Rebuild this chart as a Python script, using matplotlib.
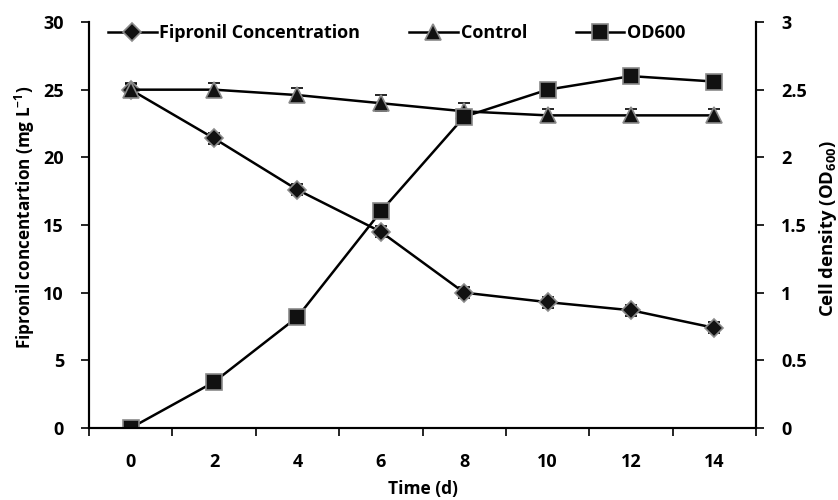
import matplotlib.pyplot as plt
import numpy as np

plt.rcParams['font.family'] = ['Open Sans', 'DejaVu Sans']
plt.rcParams['font.weight'] = 'bold'
plt.rcParams['mathtext.fontset'] = 'custom'
plt.rcParams['mathtext.rm'] = 'Open Sans:bold'
plt.rcParams['mathtext.bf'] = 'Open Sans:bold'
plt.rcParams['mathtext.default'] = 'bf'

# data
days = [0, 2, 4, 6, 8, 10, 12, 14]
fipronil = [25.0, 21.4, 17.6, 14.5, 10.0, 9.3, 8.7, 7.4]
fipronil_err = [0.4, 0.4, 0.4, 0.4, 0.4, 0.4, 0.4, 0.4]
control = [25.0, 25.0, 24.6, 24.0, 23.4, 23.1, 23.1, 23.1]
control_err = [0.5, 0.5, 0.5, 0.6, 0.6, 0.5, 0.5, 0.5]
od600 = [0.0, 0.34, 0.82, 1.6, 2.3, 2.5, 2.6, 2.56]
od600_err = [0.02, 0.03, 0.03, 0.04, 0.05, 0.04, 0.03, 0.03]

fs = 13

fig = plt.figure(figsize=(8.38, 5), dpi=100)
ax = fig.add_axes([0.1062, 0.144, 0.796, 0.812])
ax2 = ax.twinx()

mk = dict(color='black', mfc='#111111', mec='#8a8a8a', mew=1.2, lw=1.8,
          ecolor='black', elinewidth=1.0, capsize=4, capthick=1.0)

ax.errorbar(days, fipronil, yerr=fipronil_err, marker='D', ms=9,
            label='Fipronil Concentration', **mk)
ax.errorbar(days, control, yerr=control_err, marker='^', ms=12,
            label='Control', **mk)
ax2.errorbar(days, od600, yerr=od600_err, marker='s', ms=11.5,
             label='OD600', **mk)

ax.set_xlim(-1, 15)
ax.set_ylim(0, 30)
ax2.set_ylim(0, 3)
ax.set_xticks(days)
ax.set_xticks(np.arange(-1, 16, 2), minor=True)
ax.tick_params(axis='x', which='major', length=0, pad=18)
ax.tick_params(axis='x', which='minor', length=6, width=1.2, direction='out')
ax.set_yticks(np.arange(0, 31, 5))
ax.tick_params(axis='y', length=6, width=1.2, direction='out', pad=12)
ax2.set_yticks([0, 0.5, 1, 1.5, 2, 2.5, 3])
ax2.set_yticklabels(['0', '0.5', '1', '1.5', '2', '2.5', '3'])
ax2.tick_params(axis='y', length=6, width=1.2, direction='out', pad=12)

for a in (ax, ax2):
    a.spines['top'].set_visible(False)
    for s in ('left', 'right', 'bottom'):
        a.spines[s].set_linewidth(1.5)
    for lab in a.get_xticklabels() + a.get_yticklabels():
        lab.set_fontsize(fs)
        lab.set_fontweight('bold')

ax.set_xlabel('Time (d)', fontsize=12.5, fontweight='bold')
ax.xaxis.set_label_coords(0.5, -0.128)
ax.set_ylabel('Fipronil concentartion (mg L$^{-1}$)', fontsize=12.3,
              fontweight='bold')
ax.yaxis.set_label_coords(-0.078, 0.52)
ax2.set_ylabel('Cell density (OD$_{600}$)', fontsize=13.3,
               fontweight='bold')
ax2.yaxis.set_label_coords(1.092, 0.49)

h1, l1 = ax.get_legend_handles_labels()
h2, l2 = ax2.get_legend_handles_labels()
h = [x[0] for x in h1 + h2]
ax.legend(h, l1 + l2, loc='upper left', bbox_to_anchor=(0.004, 1.035), ncol=3,
          frameon=False, handlelength=2.7, handletextpad=0.15,
          columnspacing=2.7, prop={'weight': 'bold', 'size': fs})

fig.savefig('out.png', dpi=100)
